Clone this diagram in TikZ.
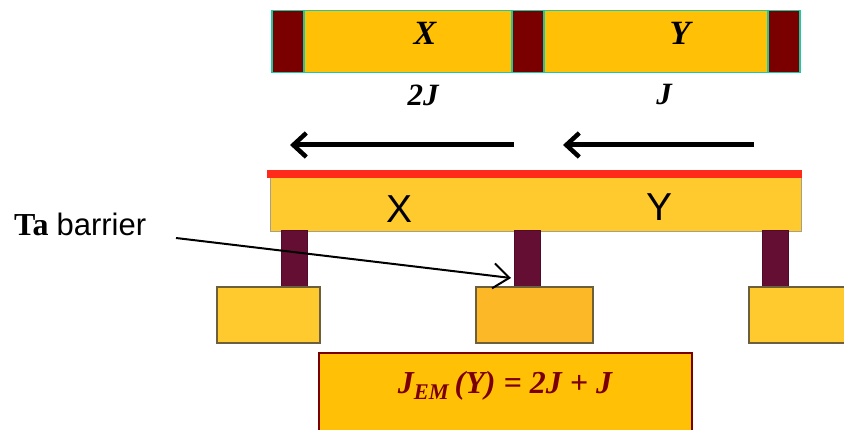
\documentclass[tikz,border=0pt]{standalone}
\usepackage{fontspec}
\setmainfont{Liberation Serif}
\newfontfamily\arialfont{Liberation Sans}
\usetikzlibrary{arrows.meta, positioning}
\definecolor{cellgreen}{RGB}{30,200,160}
\definecolor{celldark}{RGB}{122,0,0}
\definecolor{cellgold}{RGB}{255,192,5}
\definecolor{beamgold}{RGB}{255,202,45}
\definecolor{padgold}{RGB}{253,184,39}
\definecolor{barriertone}{RGB}{101,14,52}
\definecolor{capred}{RGB}{255,42,26}
\definecolor{edgegray}{RGB}{110,95,60}
\begin{document}
\begin{tikzpicture}[
  x=1pt, y=-1pt,
  node distance = 0pt,
  seg/.style = {
    rectangle, draw=cellgreen, line width=1.6pt, fill=cellgold,
    minimum height=62pt, inner sep=0pt, outer sep=0pt, anchor=west
  },
  ta/.style = {seg, fill=celldark, minimum width=32pt},
  beam/.style = {
    rectangle, draw=edgegray!60, line width=1pt, fill=beamgold,
    inner sep=0pt, outer sep=0pt, minimum width=531pt, minimum height=54pt
  },
  pillar/.style = {
    rectangle, draw=barriertone!80!black, line width=.8pt, fill=barriertone,
    inner sep=0pt, outer sep=0pt, minimum width=26pt, minimum height=57pt
  },
  pad/.style = {
    rectangle, draw=edgegray, line width=1.2pt, fill=beamgold,
    inner sep=0pt, outer sep=0pt, minimum height=56pt
  },
  lab/.style = {font=\fontsize{31}{31}\selectfont\bfseries\itshape, inner sep=0pt},
  cellname/.style = {lab, font=\fontsize{34}{34}\selectfont\bfseries\itshape},
  big/.style = {font=\arialfont\fontsize{39}{39}\selectfont, inner sep=0pt, text=black},
  arr/.style = {-{Straight Barb[length=13pt, width=24pt, line width=4.5pt]}, line width=5pt},
  thin arr/.style = {-{Straight Barb[length=16pt, width=25pt, line width=2pt]}, line width=2pt}
]
\useasboundingbox (0,0) rectangle (844,430);
\clip (0,0) rectangle (844,430);
% top stack
\node[ta] (ta1) at (272,41.5) {};
\node[seg, right=of ta1, minimum width=208pt] (xcell) {};
\node[ta, right=of xcell] (ta2) {};
\node[seg, right=of ta2, minimum width=224pt] (ycell) {};
\node[ta, right=of ycell] (ta3) {};
\node[cellname] (xname) at (425,33) {X};
\node[cellname] (yname) at (680,33) {Y};
\node[lab] (xcur) at (423,95) {2J};
\node[lab] (ycur) at (664,95) {J};
% current arrows
\coordinate (a1s) at (514,145); \coordinate (a1e) at (290,145);
\coordinate (a2s) at (754,145); \coordinate (a2e) at (563,145);
\draw[arr] (a1s)--(a1e);
\draw[arr] (a2s)--(a2e);
% device
\node[beam] (wire) at (535.5,205) {};
\node[pillar] (p1) at (294.5,258.5) {};
\node[pillar] (p2) at (527.5,258.5) {};
\node[pillar] (p3) at (775,258.5) {};
\fill[capred] (267,170) rectangle (802,178);
\node[big] (xwire) at (400,209) {X};
\node[big] (ywire) at (660,207) {Y};
\node[pad, minimum width=103pt] (pad1) at (268.5,315) {};
\node[pad, minimum width=117pt, fill=padgold] (pad2) at (534.5,315) {};
\node[pad, minimum width=110pt] (pad3) at (804,315) {};
% label
\node[font=\fontsize{32}{32}\selectfont, inner sep=0pt, anchor=west] (talabel) at (14,224) {\textbf{Ta} {\arialfont\fontsize{31}{31}\selectfont barrier}};
\coordinate (tafrom) at (176,238);
\coordinate (tato) at (511,278);
\draw[thin arr] (tafrom)--(tato);
% result
\node[rectangle, draw=celldark, line width=1.2pt, fill=cellgold, inner sep=0pt, outer sep=0pt,
  minimum width=373pt, minimum height=78pt] (result) at (505.5,392) {};
\node[lab, text=celldark, font=\fontsize{32}{32}\selectfont\bfseries\itshape] (resulttext) at (505,386) {J\textsubscript{EM}\,(Y) = 2J + J};
\end{tikzpicture}
\end{document}
